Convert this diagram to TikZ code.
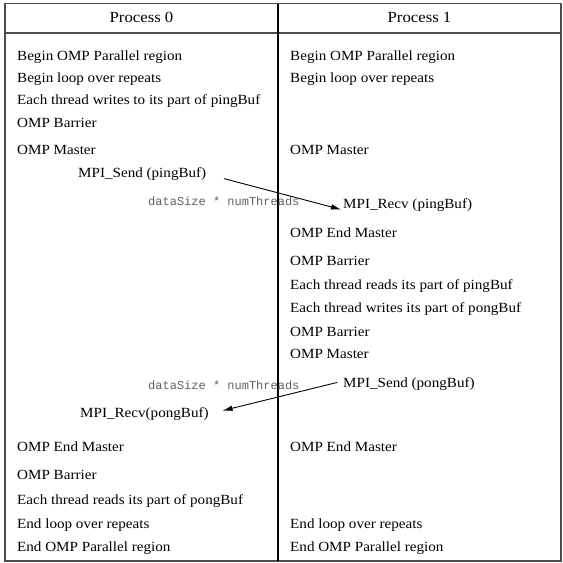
\documentclass[tikz,border=0pt]{standalone}
\usepackage{fontspec}
\setmainfont{Liberation Serif}[FakeStretch=1.08]
\newfontfamily\monof{Liberation Mono}
\usetikzlibrary{arrows.meta}
\begin{document}
\begin{tikzpicture}[x=1pt,y=-1pt,
  txt/.style={anchor=west,inner sep=0pt,text height=9.5pt,text depth=3pt,font=\fontsize{14}{16}\selectfont},
  hdr/.style={inner sep=0pt,text height=11pt,text depth=3pt,font=\fontsize{15.5}{18}\selectfont},
  msz/.style={anchor=west,inner sep=0pt,text height=8pt,text depth=2pt,font=\monof\fontsize{12}{13}\selectfont,text=black!62},
  msg/.style={-{Latex[length=10pt,width=5.5pt]},line width=0.9pt},
  frame/.style={line width=1.4pt,black!70}]
\useasboundingbox (0,0) rectangle (563,563);
\fill[white] (0,0) rectangle (563,563);
\draw[frame] (5,3.5) rectangle (561,561);
\draw[frame] (5,33) -- (561,33);
\draw[line width=1.8pt] (278,3.5) -- (278,561);
\node[hdr] (h0) at (141.5,18) {Process 0};
\node[hdr] (h1) at (419.5,18) {Process 1};
% left column
\node[txt] (l1) at (17,57) {Begin OMP Parallel region};
\node[txt] (l2) at (17,79) {Begin loop over repeats};
\node[txt] (l3) at (17,101) {Each thread writes to its part of pingBuf};
\node[txt] (l4) at (17,124) {OMP Barrier};
\node[txt] (l5) at (17,151) {OMP Master};
\node[txt] (sendA) at (78,174) {MPI\_Send (pingBuf)};
\node[msz] (szA) at (148,202) {dataSize * numThreads};
\node[msz] (szB) at (148,386) {dataSize * numThreads};
\node[txt] (recvB) at (80,414) {MPI\_Recv(pongBuf)};
\node[txt] (l6) at (17,448) {OMP End Master};
\node[txt] (l7) at (17,476) {OMP Barrier};
\node[txt] (l8) at (17,501) {Each thread reads its part of pongBuf};
\node[txt] (l9) at (17,525) {End loop over repeats};
\node[txt] (l10) at (17,548) {End OMP Parallel region};
% right column
\node[txt] (r1) at (290,57) {Begin OMP Parallel region};
\node[txt] (r2) at (290,79) {Begin loop over repeats};
\node[txt] (r3) at (290,151) {OMP Master};
\node[txt] (recvA) at (343,205) {MPI\_Recv (pingBuf)};
\node[txt] (r4) at (290,234) {OMP End Master};
\node[txt] (r5) at (290,262) {OMP Barrier};
\node[txt] (r6) at (290,286) {Each thread reads its part of pingBuf};
\node[txt] (r7) at (290,309) {Each thread writes its part of pongBuf};
\node[txt] (r8) at (290,333) {OMP Barrier};
\node[txt] (r9) at (290,355) {OMP Master};
\node[txt] (sendB) at (343,384) {MPI\_Send (pongBuf)};
\node[txt] (r10) at (290,448) {OMP End Master};
\node[txt] (r11) at (290,525) {End loop over repeats};
\node[txt] (r12) at (290,548) {End OMP Parallel region};
% messages
\draw[msg,shorten <=18pt,shorten >=2pt] (sendA.east) -- ([yshift=-5pt]recvA.west);
\draw[msg,shorten <=6pt,shorten >=14pt] ([yshift=3pt]sendB.west) -- (recvB.east);
\end{tikzpicture}
\end{document}
